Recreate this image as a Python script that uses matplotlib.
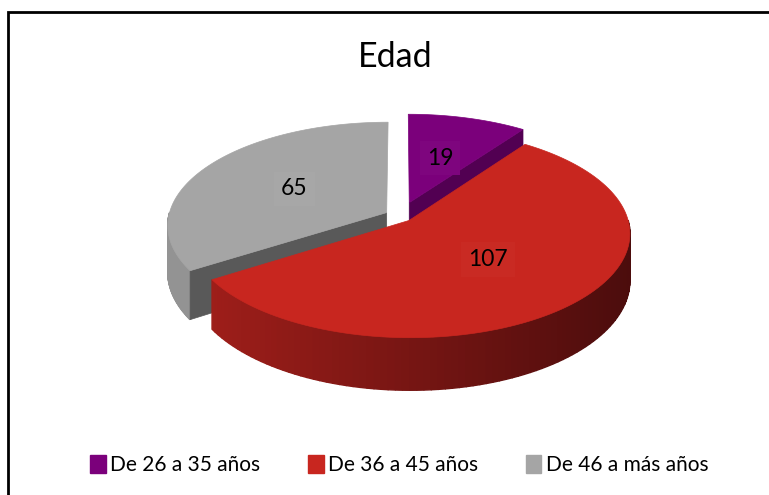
import numpy as np
import matplotlib
matplotlib.use("Agg")
import matplotlib.pyplot as plt
from matplotlib.patches import Polygon, Rectangle, Patch
from matplotlib.colors import to_rgb

# Data
categories = ["De 26 a 35 años", "De 36 a 45 años", "De 46 a más años"]
values = [19, 107, 65]
title = "Edad"

# Styling
top_colors = ["#7B007B", "#C8261F", "#A5A5A5"]
face_colors = ["#520052", "#7A1512", "#595959"]
side_left = ["#6A006A", "#A8201B", "#949494"]
side_right = ["#4A004A", "#4A0C0C", "#7E7E7E"]
explode = [0.14, 0.06, 0.07]

plt.rcParams["font.family"] = ["Lato", "DejaVu Sans"]

W, H = 769, 495
fig = plt.figure(figsize=(W / 100, H / 100), dpi=100)
ax = fig.add_axes([0, 0, 1, 1])
ax.set_xlim(0, W)
ax.set_ylim(H, 0)
ax.axis("off")

# 3D pie geometry (pixel units)
CX, CY = 400, 216
A, B, D = 218, 102, 46
P = 0.12


def proj(x, y, z, off):
    X = x + off[0]
    Y = y + off[1]
    f = 1.0 / (1.0 + P * Y)
    return CX + A * X * f, CY - B * Y * f + D * z * f


def rim(a0, a1, z, off, n=60):
    t = np.radians(np.linspace(a0, a1, n))
    return [proj(np.cos(a), np.sin(a), z, off) for a in t]


def mix(c1, c2, t):
    c1, c2 = np.array(to_rgb(c1)), np.array(to_rgb(c2))
    return tuple(c1 + (c2 - c1) * t)


total = sum(values)
angles = []
start = 90.0
for v in values:
    sweep = 360.0 * v / total
    angles.append((start - sweep, start))  # counter-clockwise range (lo, hi)
    start -= sweep

offsets = []
for (lo, hi), e in zip(angles, explode):
    mid = np.radians((lo + hi) / 2)
    offsets.append((e * np.cos(mid), e * np.sin(mid)))

# drawing order: back to front
order = [2, 0, 1]
for i in order:
    lo, hi = angles[i]
    off = offsets[i]
    # outer side (front half only)
    for base in (-360, 0):
        s0, s1 = max(lo, base - 180), min(hi, base)
        if s1 > s0:
            n = 90
            ts = np.linspace(s0, s1, n + 1)
            xs_all = [proj(np.cos(np.radians(t)), np.sin(np.radians(t)), 0, off)[0] for t in ts]
            xmin, xmax = CX - A * 1.1, CX + A * 1.1
            for k in range(n):
                seg_top = rim(ts[k], ts[k + 1], 0, off, 3)
                seg_bot = rim(ts[k + 1], ts[k], 1, off, 3)
                tt = ((xs_all[k] + xs_all[k + 1]) / 2 - xmin) / (xmax - xmin)
                c = mix(side_left[i], side_right[i], np.clip(tt, 0, 1))
                ax.add_patch(Polygon(seg_top + seg_bot, closed=True, fc=c, ec=c, lw=1.0))
    # radial faces, drawn when they face the viewer
    for ang in (lo, hi):
        a = np.radians(ang)
        ny = np.sin(a - np.pi / 2) if ang == lo else np.sin(a + np.pi / 2)
        if ny < -0.05:
            quad = [proj(0, 0, 0, off), proj(np.cos(a), np.sin(a), 0, off),
                    proj(np.cos(a), np.sin(a), 1, off), proj(0, 0, 1, off)]
            ax.add_patch(Polygon(quad, closed=True, fc=face_colors[i], ec=face_colors[i], lw=0.5))
    # top surface
    pts = [proj(0, 0, 0, off)] + rim(lo, hi, 0, off, 120)
    ax.add_patch(Polygon(pts, closed=True, fc=top_colors[i], ec=top_colors[i], lw=0.5))

# data labels
for i in range(len(values)):
    lo, hi = angles[i]
    m = np.radians((lo + hi) / 2)
    lx, ly = proj(0.5 * np.cos(m), 0.5 * np.sin(m), 0, offsets[i])
    ax.text(lx, ly, str(values[i]), ha="center", va="center", fontsize=16.5, color="black",
            bbox=dict(boxstyle="square,pad=0.3", fc=mix(top_colors[i], "#FFFFFF", 0.02), ec="none"))

# title
fig.text(0.514, 0.885, title, ha="center", va="center", fontsize=24.5, color="black")

# legend
handles = [Patch(facecolor=c, edgecolor=c) for c in top_colors]
fig.legend(handles, categories, loc="center", bbox_to_anchor=(0.519, 0.06), ncol=3, frameon=False,
           fontsize=15, handlelength=0.75, handleheight=0.95, handletextpad=0.2, columnspacing=2.3)

# chart border
fig.add_artist(Rectangle((8 / W, -0.1), 1.2, 1 - 12 / H + 0.1, transform=fig.transFigure,
                         fill=False, ec="black", lw=2.0))

fig.savefig("out.png", dpi=100)
